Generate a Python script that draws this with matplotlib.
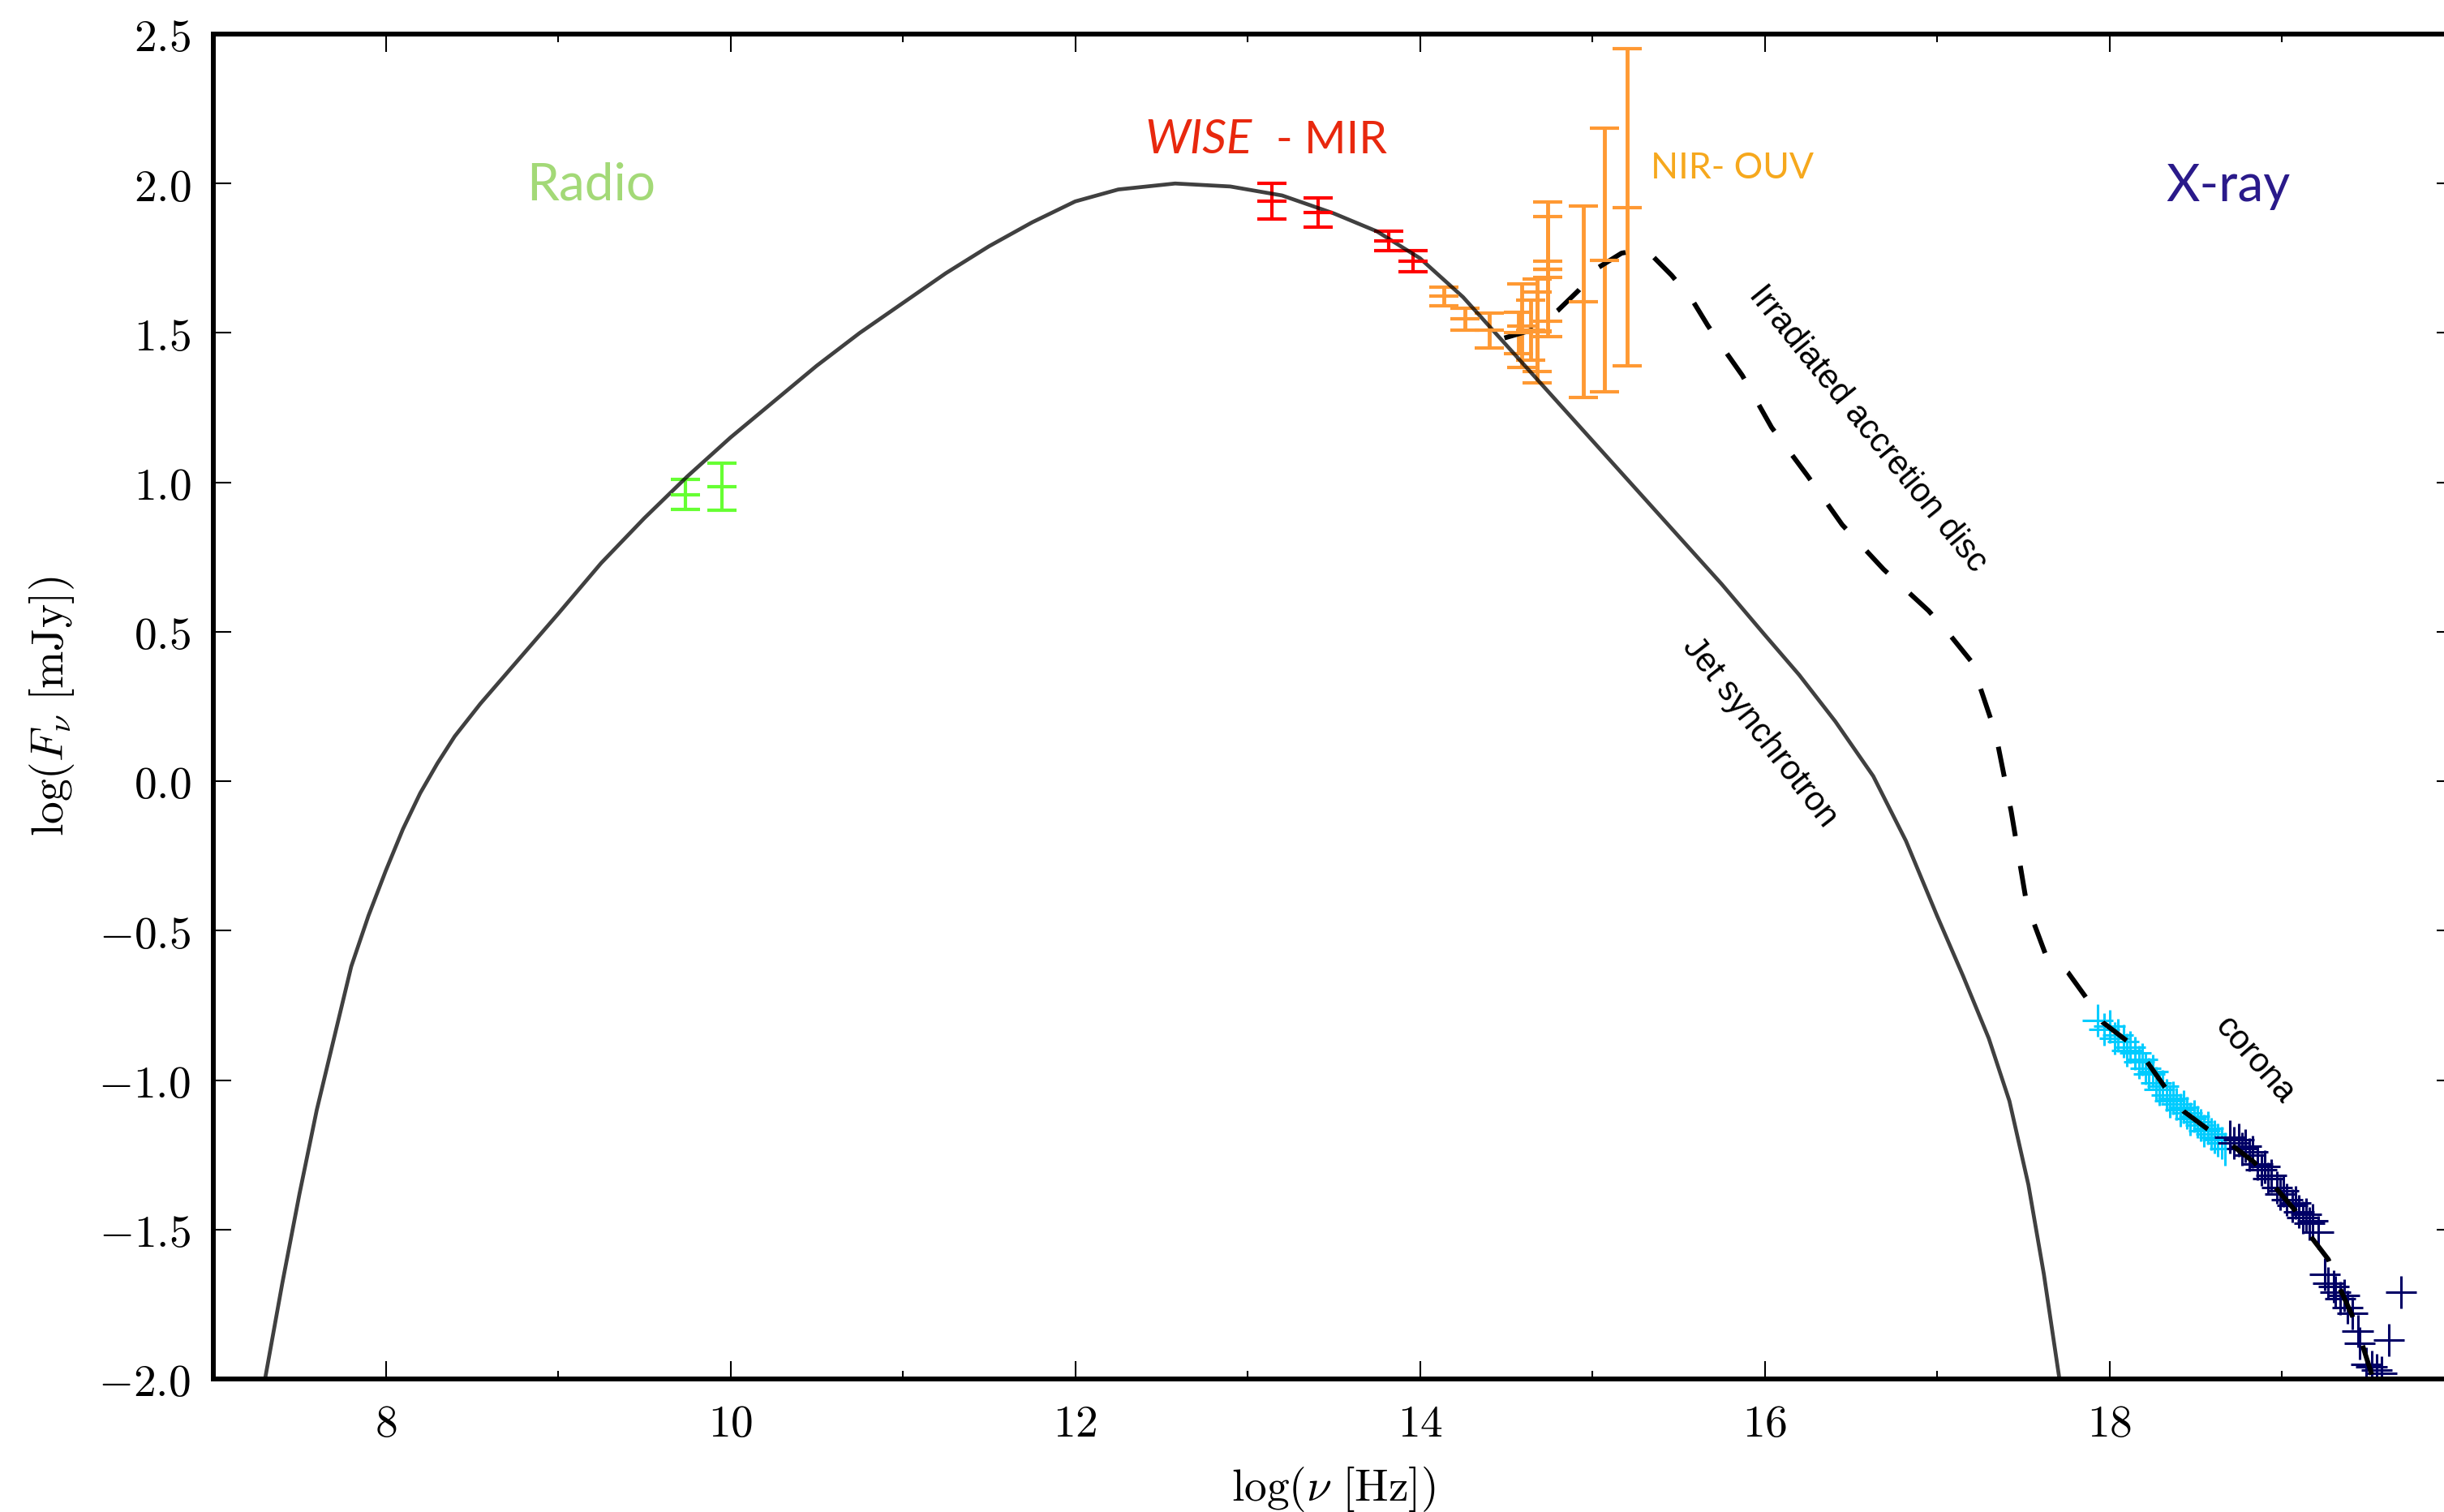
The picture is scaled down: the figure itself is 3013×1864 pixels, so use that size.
import matplotlib
matplotlib.use("Agg")
import matplotlib.pyplot as plt
from matplotlib.ticker import FuncFormatter, MultipleLocator, FixedLocator

plt.rcParams['mathtext.fontset'] = 'cm'
plt.rcParams['font.family'] = ['DejaVu Serif']

# jet synchrotron model (log nu, log F)
sync_x = [7.30, 7.40, 7.50, 7.60, 7.70, 7.80, 7.90, 8.00, 8.10, 8.20, 8.30, 8.40, 8.55,
          8.70, 8.85, 9.00, 9.25, 9.50, 9.75, 10.00, 10.25, 10.50, 10.75, 11.00, 11.25,
          11.50, 11.75, 12.00, 12.25, 12.58, 12.90, 13.20, 13.50, 13.75, 14.00, 14.25,
          14.50, 14.75, 15.00, 15.25, 15.50, 15.75, 16.00, 16.20, 16.41, 16.63, 16.82,
          17.00, 17.15, 17.30, 17.42, 17.53, 17.62, 17.71]
sync_y = [-2.00, -1.68, -1.38, -1.10, -0.86, -0.62, -0.45, -0.30, -0.16, -0.04, 0.06, 0.15, 0.26,
          0.36, 0.46, 0.56, 0.73, 0.88, 1.02, 1.15, 1.27, 1.39, 1.50, 1.60, 1.70,
          1.79, 1.87, 1.94, 1.98, 2.00, 1.99, 1.96, 1.90, 1.84, 1.75, 1.62,
          1.46, 1.30, 1.14, 0.98, 0.82, 0.66, 0.49, 0.356, 0.20, 0.017, -0.20,
          -0.45, -0.65, -0.86, -1.07, -1.35, -1.65, -2.00]

# irradiated disc + corona model
disc_x = [14.49, 14.65, 14.80, 14.92, 15.03, 15.17, 15.25, 15.35, 15.46, 15.58, 15.67,
          15.77, 15.87, 16.04, 16.25, 16.45, 16.69, 16.95, 17.06, 17.20, 17.34, 17.43,
          17.52, 17.63, 17.76, 17.86, 17.96, 18.10, 18.22, 18.33, 18.43, 18.57, 18.70,
          18.84, 18.96, 19.08, 19.16, 19.27, 19.34, 19.41, 19.47, 19.53]
disc_y = [1.483, 1.51, 1.575, 1.642, 1.717, 1.767, 1.775, 1.757, 1.693, 1.61, 1.525,
          1.44, 1.358, 1.184, 1.021, 0.858, 0.709, 0.571, 0.50, 0.40, 0.16, -0.10,
          -0.41, -0.58, -0.64, -0.72, -0.806, -0.868, -0.94, -1.03, -1.104, -1.164, -1.213,
          -1.275, -1.357, -1.438, -1.517, -1.60, -1.70, -1.79, -1.89, -2.0]

# radio
radio_x = [9.74, 9.95]
radio_y = [0.959, 0.986]
radio_err = [0.05, 0.078]

# WISE
wise_x = [13.14, 13.41, 13.82, 13.96]
wise_y = [1.94, 1.903, 1.807, 1.74]
wise_err = [0.06, 0.05, 0.033, 0.035]

# NIR - OUV
opt_x = [14.14, 14.26, 14.40, 14.57, 14.59, 14.64, 14.68, 14.68, 14.74, 14.74, 14.74, 14.95, 15.07, 15.20]
opt_y = [1.622, 1.546, 1.508, 1.50, 1.524, 1.51, 1.506, 1.505, 1.713, 1.714, 1.713, 1.605, 1.744, 1.920]
opt_err = [0.032, 0.037, 0.059, 0.07, 0.14, 0.10, 0.173, 0.133, 0.225, 0.176, 0.026, 0.32, 0.44, 0.53]

# X-ray, soft band
soft_x = [17.93, 17.97, 18.00, 18.03, 18.05, 18.08, 18.10, 18.12, 18.15, 18.17, 18.19,
          18.21, 18.23, 18.25, 18.27, 18.29, 18.31, 18.33, 18.35, 18.37, 18.39, 18.41,
          18.43, 18.45, 18.47, 18.49, 18.51, 18.53, 18.55, 18.57, 18.59, 18.61, 18.63,
          18.65, 18.67]
soft_y = [-0.80, -0.83, -0.82, -0.86, -0.85, -0.87, -0.90, -0.89, -0.91, -0.94, -0.93,
          -0.96, -0.98, -0.97, -1.01, -1.03, -1.02, -1.05, -1.07, -1.06, -1.08, -1.10,
          -1.09, -1.11, -1.13, -1.12, -1.14, -1.15, -1.17, -1.16, -1.18, -1.19, -1.20,
          -1.21, -1.23]

# X-ray, hard band
hard_x = [18.70, 18.72, 18.75, 18.77, 18.79, 18.81, 18.83, 18.86, 18.88, 18.90, 18.92,
          18.94, 18.97, 18.99, 19.01, 19.03, 19.06, 19.08, 19.10, 19.12, 19.14, 19.16,
          19.18, 19.21, 19.25, 19.27, 19.30, 19.31, 19.34, 19.36, 19.38, 19.41, 19.44,
          19.45, 19.49, 19.52, 19.55, 19.58, 19.62, 19.69]
hard_y = [-1.19, -1.21, -1.20, -1.23, -1.22, -1.25, -1.24, -1.28, -1.30, -1.29, -1.33,
          -1.32, -1.36, -1.38, -1.37, -1.40, -1.42, -1.41, -1.44, -1.46, -1.45, -1.48,
          -1.47, -1.51, -1.65, -1.68, -1.69, -1.71, -1.73, -1.72, -1.76, -1.78, -1.84,
          -1.88, -1.95, -1.96, -1.97, -1.98, -1.87, -1.71]

x_ticks = [8, 10, 12, 14, 16, 18]

fig = plt.figure(figsize=(30.13, 18.64), dpi=100)
ax = fig.add_axes([0.08729, 0.08798, 0.91686, 0.88949])

ax.errorbar(radio_x, radio_y, yerr=radio_err, fmt='_', ms=26, mew=3, color='#66ff33',
            ecolor='#66ff33', elinewidth=3, capsize=13, capthick=3)
ax.errorbar(wise_x, wise_y, yerr=wise_err, fmt='_', ms=26, mew=3, color='#ff0000',
            ecolor='#ff0000', elinewidth=3, capsize=13, capthick=3)
ax.errorbar(opt_x, opt_y, yerr=opt_err, fmt='_', ms=26, mew=3, color='#ff9933',
            ecolor='#ff9933', elinewidth=3.5, capsize=13, capthick=3)
ax.errorbar(soft_x, soft_y, xerr=0.09, yerr=0.055, fmt='none', ecolor='#00ccff',
            elinewidth=2.2, capsize=0)
ax.errorbar(hard_x, hard_y, xerr=0.09, yerr=0.055, fmt='none', ecolor='#000066',
            elinewidth=2.2, capsize=0)

ax.plot(sync_x, sync_y, color='black', alpha=0.75, lw=3.4, solid_joinstyle='round')
ax.plot(sync_x[-1:], sync_y[-1:], lw=0)
ax.plot(disc_x, disc_y, color='black', lw=4.3, dashes=(6.3, 6.2))

ax.set_xlim(7, 20)
ax.set_ylim(-2.0, 2.5)
ax.xaxis.set_major_locator(FixedLocator(x_ticks))
ax.xaxis.set_minor_locator(MultipleLocator(1))
ax.yaxis.set_major_locator(MultipleLocator(0.5))
ax.xaxis.set_major_formatter(FuncFormatter(lambda v, p: r'$%d$' % round(v)))
ax.yaxis.set_major_formatter(FuncFormatter(lambda v, p: r'$%.1f$' % v))
ax.tick_params(which='both', direction='in', top=True, right=True, labelsize=40)
ax.tick_params(which='major', length=16, width=1.5, pad=20)
ax.tick_params(which='minor', length=7, width=1.5)
for s in ax.spines.values():
    s.set_linewidth(4.3)

ax.set_xlabel(r'$\log(\nu\ [\mathrm{Hz}])$', fontsize=40)
ax.set_ylabel(r'$\log(F_\nu\ [\mathrm{mJy}])$', fontsize=40)
ax.xaxis.set_label_coords(0.5, -0.064)
ax.yaxis.set_label_coords(-0.061, 0.5)

gill = ['Lato', 'DejaVu Sans']
helv = ['Liberation Sans', 'DejaVu Sans']
ax.text(9.19, 1.994, 'Radio', color='#a3d977', fontsize=46, family=gill, ha='center', va='center')
ax.text(12.405, 2.101, 'WISE', color='#e8280e', fontsize=42, family=gill, style='italic',
        ha='left', va='baseline')
ax.text(13.165, 2.101, '- MIR', color='#e8280e', fontsize=40, family=gill, ha='left', va='baseline')
ax.text(15.34, 2.017, 'NIR- OUV', color='#f6a81d', fontsize=32, family=gill, ha='left', va='baseline')
ax.text(18.69, 1.99, 'X-ray', color='#2a1a8a', fontsize=46, family=gill, ha='center', va='center')
ax.text(16.6, 1.18, 'Irradiated accretion disc', fontsize=30, family=helv, rotation=-51,
        ha='center', va='center', rotation_mode='anchor')
ax.text(15.97, 0.163, 'Jet synchrotron', fontsize=30, family=helv, rotation=-52,
        ha='center', va='center', rotation_mode='anchor')
ax.text(18.84, -0.933, 'corona', fontsize=30, family=helv, rotation=-49,
        ha='center', va='center', rotation_mode='anchor')

fig.savefig('out.png', dpi=100)
